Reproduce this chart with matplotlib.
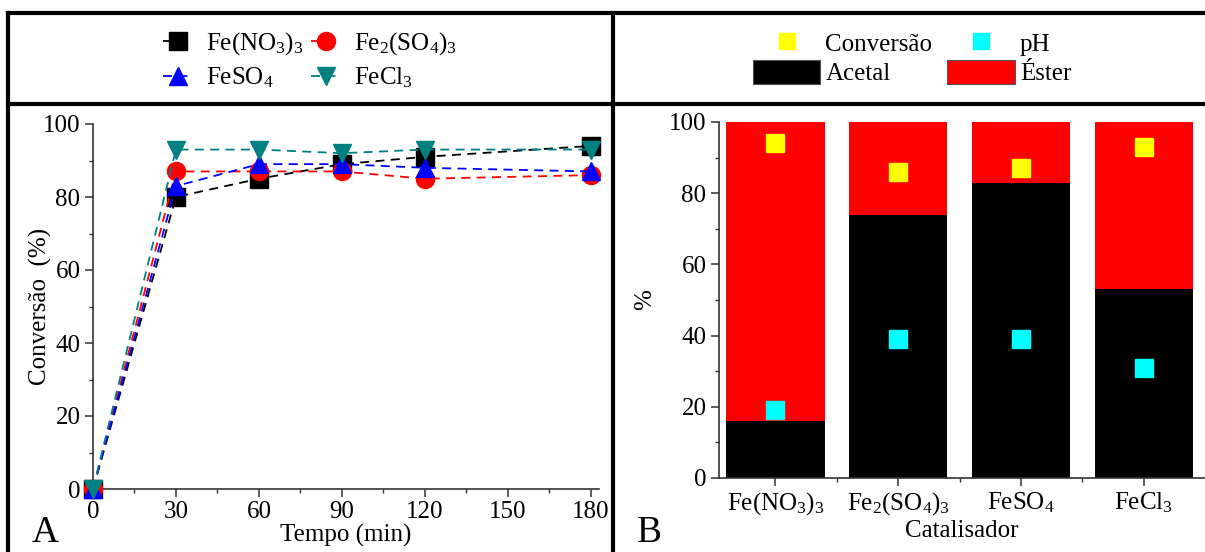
import matplotlib

matplotlib.use("Agg")
import matplotlib.pyplot as plt
from matplotlib.lines import Line2D
from matplotlib.patches import Patch
from matplotlib.ticker import MultipleLocator

plt.rcParams["font.family"] = ["Liberation Serif", "DejaVu Serif"]
plt.rcParams["mathtext.fontset"] = "custom"
plt.rcParams["mathtext.rm"] = "Liberation Serif"
plt.rcParams["mathtext.it"] = "Liberation Serif:italic"
plt.rcParams["mathtext.bf"] = "Liberation Serif:bold"
plt.rcParams["mathtext.default"] = "rm"
plt.rcParams["font.size"] = 18

# ---- panel A: conversion vs time ----
tempo = [0, 30, 60, 90, 120, 180]
conv_fe_no3 = [0, 80, 85, 89, 91, 94]
conv_fe2_so4 = [0, 87, 87, 87, 85, 86]
conv_feso4 = [0, 83, 89, 89, 88, 87]
conv_fecl3 = [0, 93, 93, 92, 93, 93]

# ---- panel B: selectivity per catalyst ----
catalisadores = ["Fe(NO$_3$)$_3$", "Fe$_2$(SO$_4$)$_3$", "FeSO$_4$", "FeCl$_3$"]
acetal = [16, 74, 83, 53]
ester = [84, 26, 17, 47]
conversao = [94, 86, 87, 93]
ph = [19, 39, 39, 31]

W, H = 1205, 552
fig = plt.figure(figsize=(W / 100, H / 100), dpi=100)

SPINE = "#333333"


def style_axes(ax):
    for s in ("top", "right"):
        ax.spines[s].set_visible(False)
    for s in ("left", "bottom"):
        ax.spines[s].set_color(SPINE)
        ax.spines[s].set_linewidth(1.2)
    ax.tick_params(which="major", length=6, width=1.1, color=SPINE, pad=3)
    ax.tick_params(which="minor", length=3, width=1.0, color=SPINE)


# Panel A
axA = fig.add_axes([93 / W, 1 - 489 / H, 506 / W, 365 / H])
series = [
    (conv_fe_no3, "black", "s", "Fe(NO$_3$)$_3$"),
    (conv_fe2_so4, "red", "o", "Fe$_2$(SO$_4$)$_3$"),
    (conv_feso4, "blue", "^", "FeSO$_4$"),
    (conv_fecl3, "#008080", "v", "FeCl$_3$"),
]
handles = {}
for ys, c, m, lab in series:
    (ln,) = axA.plot(tempo, ys, color=c, marker=m, ls=(0, (5, 3.5)), lw=1.3,
                     markersize=13, clip_on=False, zorder=3, label=lab)
    handles[lab] = ln
axA.set_xlim(0, 183)
axA.set_ylim(0, 100)
axA.set_xticks([0, 30, 60, 90, 120, 150, 180])
axA.xaxis.set_minor_locator(MultipleLocator(15))
axA.yaxis.set_minor_locator(MultipleLocator(10))
style_axes(axA)
axA.set_xlabel("Tempo (min)", labelpad=0)
axA.set_ylabel("Conversão  (%)")
axA.yaxis.set_label_coords(-0.081, 0.5)

# Panel B
axB = fig.add_axes([719 / W, 1 - 478 / H, 486 / W, 356 / H])
x = range(len(catalisadores))
axB.bar(x, acetal, width=0.8, color="black", zorder=2)
axB.bar(x, ester, width=0.8, bottom=acetal, color="red", zorder=2)
axB.plot(x, conversao, ls="none", marker="s", markersize=13, color="yellow", zorder=3)
axB.plot(x, ph, ls="none", marker="s", markersize=13, color="cyan", zorder=3)
axB.set_xlim(-0.46, 3.5)
axB.set_ylim(0, 100)
axB.set_xticks(list(x))
axB.set_xticklabels(catalisadores)
axB.set_xticks([0.5, 1.5, 2.5], minor=True)
axB.yaxis.set_minor_locator(MultipleLocator(10))
style_axes(axB)
axB.set_xlabel("Catalisador", labelpad=2)
axB.set_ylabel("%")
axB.yaxis.set_label_coords(-0.13, 0.5)

# legends in the header boxes
legA = fig.legend(
    [handles[k] for k in ["Fe(NO$_3$)$_3$", "FeSO$_4$", "Fe$_2$(SO$_4$)$_3$", "FeCl$_3$"]],
    ["Fe(NO$_3$)$_3$", "FeSO$_4$", "Fe$_2$(SO$_4$)$_3$", "FeCl$_3$"],
    ncol=2, loc="center", bbox_to_anchor=(310 / W, 1 - 60 / H), frameon=False,
    handlelength=1.2, handletextpad=0.5, columnspacing=0.3, labelspacing=0.35,
    borderaxespad=0,
)
legB_handles = [
    Line2D([], [], ls="none", marker="s", markersize=11, color="yellow"),
    Patch(facecolor="black", edgecolor="#555555", lw=0.8),
    Line2D([], [], ls="none", marker="s", markersize=11, color="cyan"),
    Patch(facecolor="red", edgecolor="#555555", lw=0.8),
]
legB = fig.legend(
    legB_handles, ["Conversão", "Acetal", "pH", "Éster"],
    ncol=2, loc="center", bbox_to_anchor=(912 / W, 1 - 58 / H), frameon=False,
    handlelength=2.7, handleheight=1.1, handletextpad=0.2, columnspacing=0.6,
    labelspacing=0.15, borderaxespad=0,
)

# panel frame lines
lw = 3.0
frame = [
    ((8, 1205), (13, 13)),
    ((8, 1205), (104, 104)),
    ((8, 8), (13, 552)),
    ((613, 613), (13, 552)),
]
for xs, ys in frame:
    fig.add_artist(Line2D([v / W for v in xs], [1 - v / H for v in ys],
                          color="black", lw=lw, transform=fig.transFigure))

fig.text(45 / W, 1 - 542 / H, "A", fontsize=27, ha="center", va="baseline")
fig.text(649 / W, 1 - 542 / H, "B", fontsize=27, ha="center", va="baseline")

fig.savefig("out.png", dpi=100)
